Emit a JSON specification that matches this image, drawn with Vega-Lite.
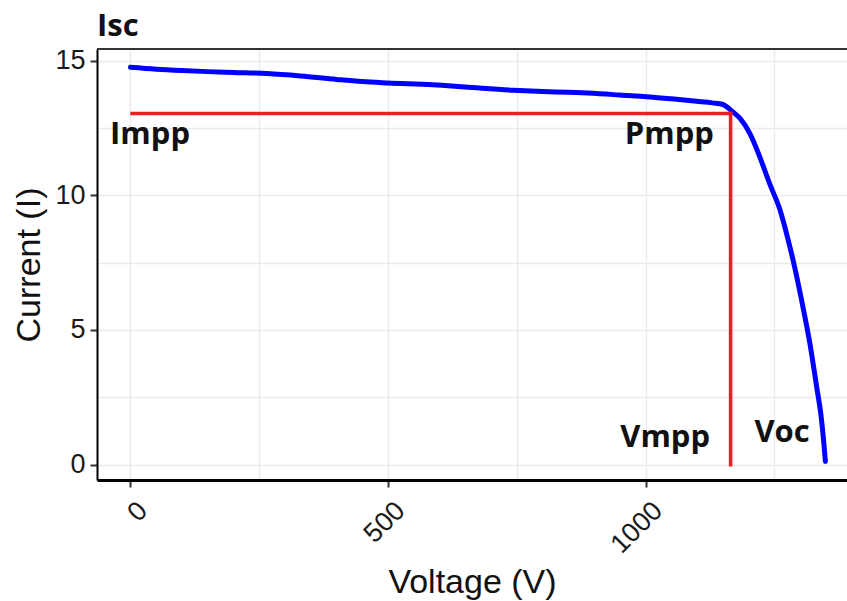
{
  "$schema": "https://vega.github.io/schema/vega-lite/v6.json",
  "width": 750,
  "height": 431,
  "autosize": {"type": "none"},
  "padding": {"left": 97, "top": 49, "right": 0, "bottom": 121},
  "background": "white",
  "title": {"text": "Isc", "anchor": "start", "frame": "group", "font": "Open Sans", "fontWeight": "bold", "fontSize": 31, "color": "#111111", "offset": 4},
  "config": {
    "view": {"stroke": null},
    "axis": {
      "gridColor": "#EBEBEB",
      "gridWidth": 1.5,
      "labelFont": "Liberation Sans",
      "labelFontSize": 27,
      "labelColor": "#1a1a1a",
      "titleFont": "Liberation Sans",
      "titleFontSize": 34,
      "titleFontWeight": "normal",
      "titleColor": "#111111",
      "domainColor": "#000000",
      "tickColor": "#333333",
      "tickWidth": 2,
      "tickSize": 7
    }
  },
  "datasets": {
    "curve": [
      {"V": 0, "I": 14.75}, {"V": 50, "I": 14.68}, {"V": 100, "I": 14.63}, {"V": 150, "I": 14.59},
      {"V": 200, "I": 14.56}, {"V": 265, "I": 14.52}, {"V": 330, "I": 14.43}, {"V": 400, "I": 14.3},
      {"V": 450, "I": 14.22}, {"V": 500, "I": 14.17}, {"V": 587, "I": 14.1}, {"V": 650, "I": 14.02},
      {"V": 743, "I": 13.9}, {"V": 800, "I": 13.85}, {"V": 850, "I": 13.82}, {"V": 905, "I": 13.78},
      {"V": 950, "I": 13.72}, {"V": 1002, "I": 13.66}, {"V": 1050, "I": 13.58}, {"V": 1099, "I": 13.49},
      {"V": 1130, "I": 13.43}, {"V": 1150, "I": 13.37}, {"V": 1169, "I": 13.1}, {"V": 1183, "I": 12.86},
      {"V": 1203, "I": 12.27}, {"V": 1222, "I": 11.41}, {"V": 1241, "I": 10.42}, {"V": 1261, "I": 9.45},
      {"V": 1276, "I": 8.4}, {"V": 1288, "I": 7.45}, {"V": 1303, "I": 6.09}, {"V": 1319, "I": 4.49},
      {"V": 1332, "I": 2.9}, {"V": 1341, "I": 1.75}, {"V": 1346, "I": 0.8}, {"V": 1349, "I": 0.12}
    ],
    "mpp": [
      {"V": 3, "V2": 1165, "I": 13.04, "I2": 13.04},
      {"V": 1165, "V2": 1165, "I": 0, "I2": 13.04}
    ],
    "border": [
      {"V": -65, "V2": 1391, "I": 15.43, "I2": 15.43}
    ],
    "labels": [
      {"label": "Impp", "V": 38, "I": 11.9},
      {"label": "Pmpp", "V": 1046, "I": 11.9},
      {"label": "Vmpp", "V": 1038, "I": 0.64},
      {"label": "Voc", "V": 1265, "I": 0.85}
    ]
  },
  "encoding": {
    "x": {
      "field": "V", "type": "quantitative",
      "scale": {"domain": [-65, 1391], "nice": false, "zero": false},
      "axis": {
        "title": "Voltage (V)",
        "values": [0, 250, 500, 750, 1000, 1250],
        "labelExpr": "datum.value % 500 === 0 ? '' + datum.value : ''",
        "tickOpacity": {"condition": {"test": "datum.value % 500 !== 0", "value": 0}, "value": 1},
        "labelAngle": -45,
        "labelAlign": "right",
        "labelBaseline": "top",
        "labelPadding": 10,
        "labelOffset": 3,
        "domainWidth": 3,
        "titlePadding": 8
      }
    },
    "y": {
      "field": "I", "type": "quantitative",
      "scale": {"domain": [-0.57, 15.43], "nice": false, "zero": false},
      "axis": {
        "title": "Current (I)",
        "values": [0, 2.5, 5, 7.5, 10, 12.5, 15],
        "labelExpr": "datum.value % 5 === 0 ? '' + datum.value : ''",
        "tickOpacity": {"condition": {"test": "datum.value % 5 !== 0", "value": 0}, "value": 1},
        "labelPadding": 5,
        "domainWidth": 2,
        "titlePadding": 8
      }
    }
  },
  "layer": [
    {
      "data": {"name": "border"},
      "mark": {"type": "rule", "color": "#333333", "strokeWidth": 2, "clip": false},
      "encoding": {"x2": {"field": "V2"}, "y2": {"field": "I2"}}
    },
    {
      "data": {"name": "curve"},
      "mark": {"type": "line", "color": "#0000FF", "strokeWidth": 5, "interpolate": "monotone", "strokeJoin": "round", "strokeCap": "round"}
    },
    {
      "data": {"name": "mpp"},
      "mark": {"type": "rule", "color": "#EE1C25", "strokeWidth": 3.5, "strokeCap": "square"},
      "encoding": {"x2": {"field": "V2"}, "y2": {"field": "I2"}}
    },
    {
      "data": {"name": "labels"},
      "mark": {"type": "text", "font": "Open Sans", "fontWeight": "bold", "fontSize": 31, "color": "#111111", "align": "center", "baseline": "alphabetic"},
      "encoding": {"text": {"field": "label", "type": "nominal"}}
    }
  ]
}
